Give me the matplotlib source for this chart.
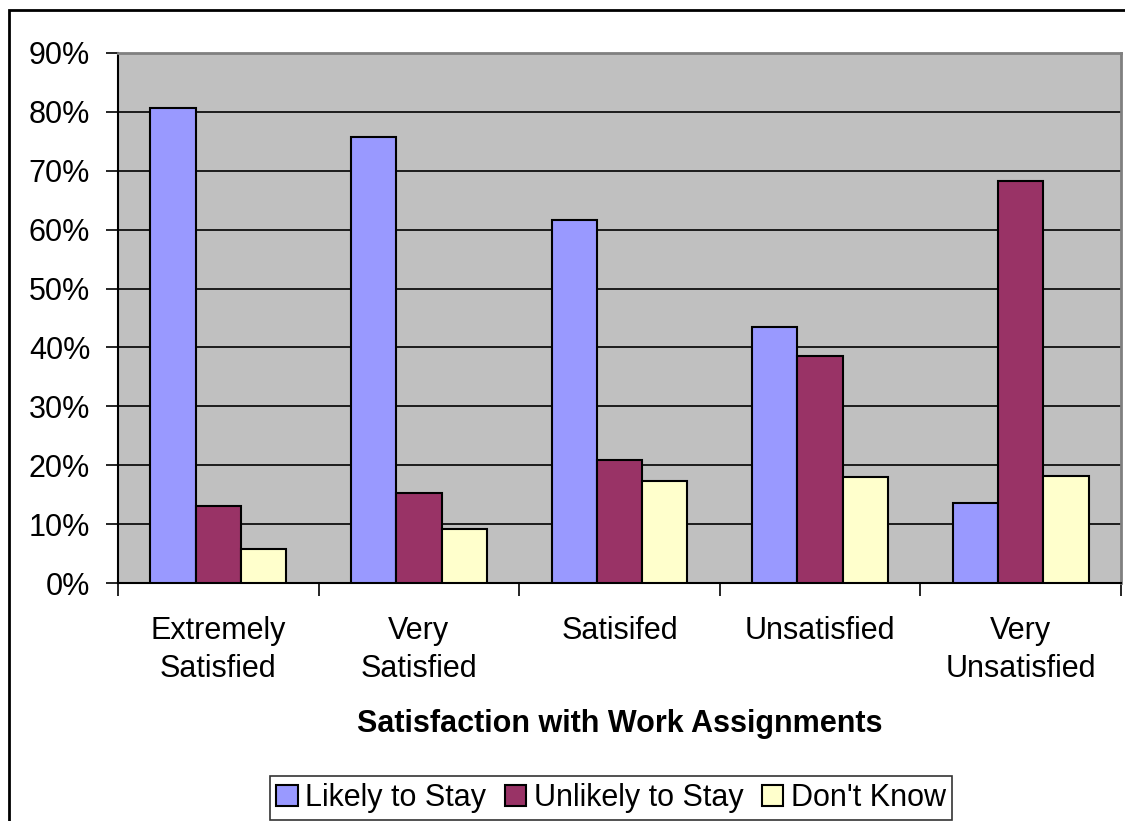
"""Grouped bar chart: intention to stay by satisfaction with work assignments."""

import matplotlib

matplotlib.use("Agg")
import matplotlib.pyplot as plt
from matplotlib.patches import Rectangle
from matplotlib.ticker import PercentFormatter
import numpy as np


categories = ["Extremely\nSatisfied", "Very\nSatisfied", "Satisifed", "Unsatisfied", "Very\nUnsatisfied"]
likely_to_stay = [80.6, 75.7, 61.7, 43.5, 13.6]
unlikely_to_stay = [13.0, 15.2, 20.9, 38.6, 68.3]
dont_know = [5.8, 9.1, 17.4, 18.0, 18.2]

series = [
    ("Likely to Stay", likely_to_stay, "#9999FF"),
    ("Unlikely to Stay", unlikely_to_stay, "#993366"),
    ("Don't Know", dont_know, "#FFFFCC"),
]

plt.rcParams["font.family"] = ["Liberation Sans", "DejaVu Sans"]

W, H = 1125, 821
FS = 22
fig = plt.figure(figsize=(W / 100, H / 100), dpi=100)
ax = fig.add_axes([118 / W, 1 - 583 / H, (1121 - 118) / W, (583 - 53) / H])
ax.set_facecolor("#C0C0C0")

# outer chart frame, running off the right and bottom edges
fig.patches.append(Rectangle((9 / W, -0.05), 1.2, 1 - 10 / H + 0.05,
                             transform=fig.transFigure, fill=False,
                             edgecolor="black", linewidth=2, zorder=0))

x = np.arange(len(categories))
width = 0.2256
for i, (name, values, color) in enumerate(series):
    ax.bar(x + (i - 1) * width, values, width, color=color, edgecolor="black",
           linewidth=1.5, label=name, zorder=3)

ax.set_xlim(-0.5, len(categories) - 0.5)
ax.set_ylim(0, 90)
ax.set_yticks(np.arange(0, 91, 10))
ax.yaxis.set_major_formatter(PercentFormatter(decimals=0))
ax.grid(axis="y", color="black", linewidth=1.2, zorder=1)

ax.set_xticks(x)
ax.set_xticklabels(categories, fontsize=FS, linespacing=1.35)
ax.set_xticks(np.arange(-0.5, len(categories)), minor=True)
ax.tick_params(axis="x", which="major", length=0, pad=24)
ax.tick_params(axis="x", which="minor", length=9, width=1.2, direction="out")
ax.tick_params(axis="y", labelsize=FS, length=9, width=1.2, direction="out", pad=11)

for side in ("left", "bottom"):
    ax.spines[side].set_color("black")
    ax.spines[side].set_linewidth(1.5)
for side in ("top", "right"):
    ax.spines[side].set_color("#808080")
    ax.spines[side].set_linewidth(2)

ax.set_xlabel("Satisfaction with Work Assignments", fontsize=FS, fontweight="bold", labelpad=18)

leg = fig.legend(loc="center", bbox_to_anchor=(611 / W, 1 - 798 / H), ncol=3,
                 fontsize=FS, frameon=True, fancybox=False, edgecolor="black",
                 handlelength=0.7, handleheight=0.7, handletextpad=0.25,
                 columnspacing=0.6, borderpad=0.22, borderaxespad=0)
leg.get_frame().set_linewidth(1.2)

fig.savefig("out.png", dpi=100)
plt.close(fig)
